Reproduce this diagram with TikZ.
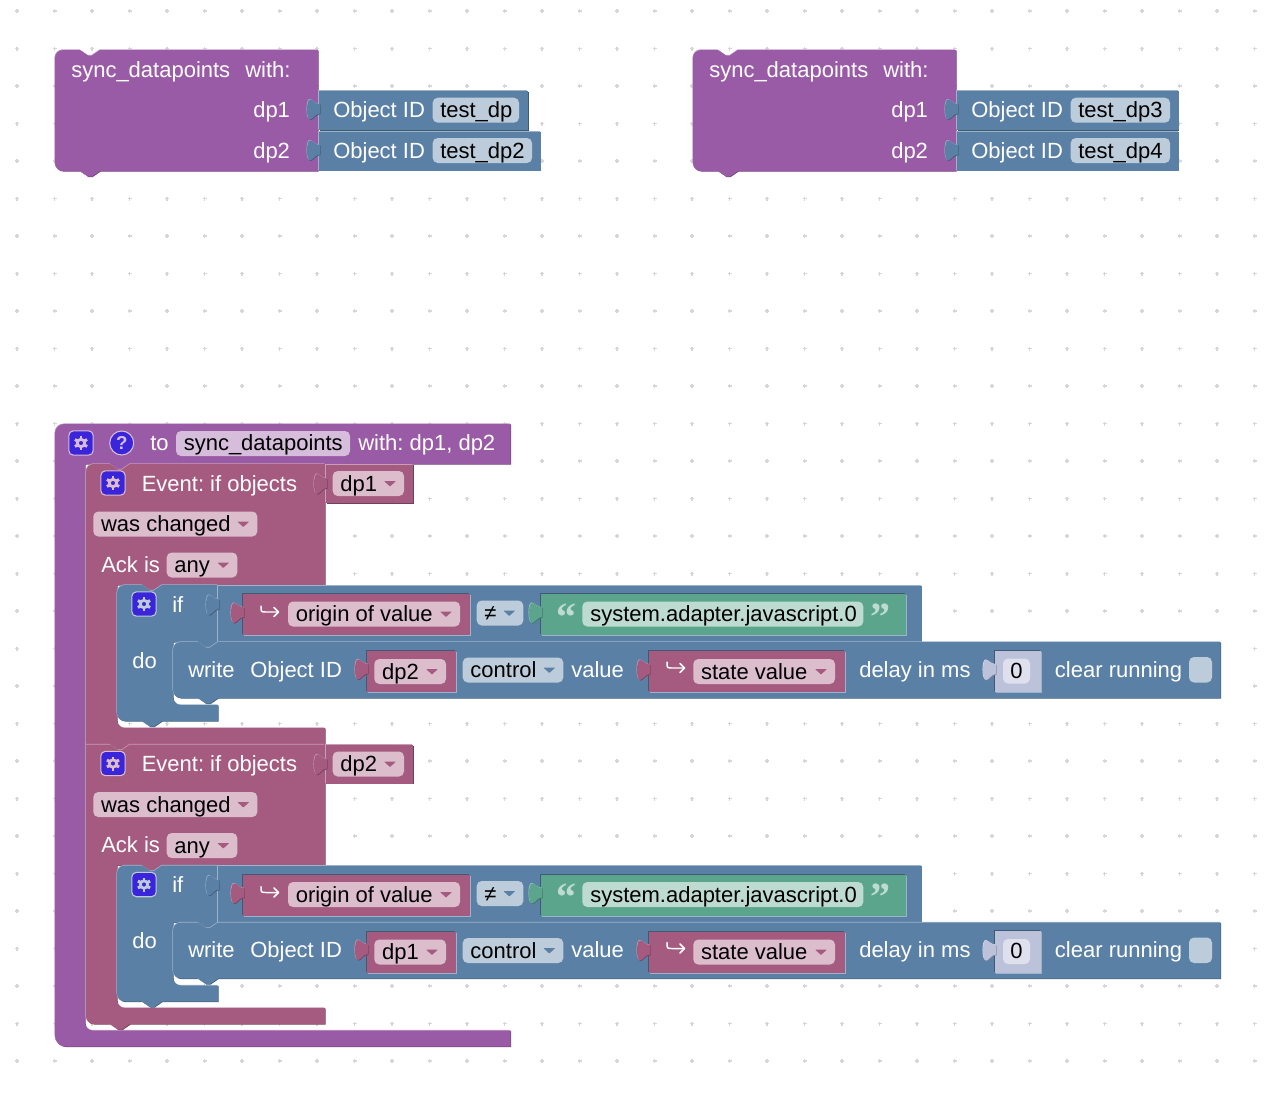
\documentclass[tikz,border=0pt]{standalone}
\usepackage{fontspec}
\setmainfont{Liberation Sans}
\newfontfamily\quotefont{Liberation Serif}
\frenchspacing
\definecolor{purp}{HTML}{995BA5}
\definecolor{purpf}{HTML}{D6BDDB}
\definecolor{maro}{HTML}{A55B80}
\definecolor{marof}{HTML}{DBBDCC}
\definecolor{blu}{HTML}{5B80A5}
\definecolor{bluf}{HTML}{BDCCDB}
\definecolor{grn}{HTML}{5BA58C}
\definecolor{grnf}{HTML}{BDDBD1}
\definecolor{numb}{HTML}{BDC2DB}
\definecolor{numf}{HTML}{DEE0ED}
\definecolor{icon}{HTML}{3B25DA}
\definecolor{griddot}{HTML}{D6D6D6}
\newcommand\blockfont{\fontsize{16.5}{19}\selectfont}
%%statement connector pieces
\newcommand\notchR{-- ++(8,5.5) -- ++(4,0) -- ++(8,-5.5)}
\newcommand\bumpL{-- ++(-8,5.5) -- ++(-4,0) -- ++(-8,-5.5)}
%%value tab: right edge, centre, colour
\newcommand\tabat[3]{\path[blk=#3] (#1+1,#2-5.5) .. controls (#1-4,#2-5.5) and (#1-6,#2-10) .. (#1-9,#2-10)
  .. controls (#1-13,#2-10) and (#1-13,#2+10) .. (#1-9,#2+10)
  .. controls (#1-6,#2+10) and (#1-4,#2+4) .. (#1+1,#2+4);}
%%dropdown field: name, x1, x2, centre, text, fill, arrow colour
\newcommand\ddfield[7]{\path[fill=#6,rounded corners=3.75pt] (#2,#4-12.5) rectangle (#3,#4+12.5);
  \node (#1) [fldtxt] at (#2+7.5,#4+7.5) {#5};
  \fill[#7,rounded corners=.5pt] (#3-20,#4-2.5) -- ++(12,0) -- ++(-6,5.5) -- cycle;}
\newcommand\hookicon[2]{\draw[iconln] (#1,#2) .. controls (#1,#2+6) .. (#1+5,#2+6) -- (#1+17,#2+6);
  \draw[iconln] (#1+13,#2+1.5) -- (#1+17.5,#2+6) -- (#1+13,#2+10.5);}
\tikzset{
  blk/.style={fill=#1,
    preaction={fill=#1!70!black,transform canvas={shift={(.45pt,-.45pt)}}},
    preaction={fill=#1!60!white,transform canvas={shift={(-.4pt,.4pt)}}}},
  %%child sitting in a blue row
  inset/.style={fill=#1,
    preaction={fill=blu!60!white,transform canvas={shift={(.75pt,-.75pt)}}},
    preaction={fill=blu!70!black,transform canvas={shift={(-.6pt,.6pt)}}}},
  lbl/.style={anchor=base west,inner sep=0pt,text=white,font=\blockfont},
  fldtxt/.style={anchor=base west,inner sep=0pt,text=black,font=\blockfont},
  iconln/.style={white,line width=1.1pt,line cap=round,line join=round},
  quot/.style={anchor=center,inner sep=0pt,text=grnf,font=\quotefont\fontsize{30}{30}\bfseries\selectfont},
  pics/gearicon/.style={code={
    \path[fill=icon,draw=#1,line width=.8pt,rounded corners=3.5pt] (-12.2,-12.2) rectangle (12.2,12.2);
    \draw[#1,line width=2.1pt] (0,0) circle (3.7);
    \foreach \a in {30,90,...,330}
      \draw[#1,line width=2.2pt] (\a:4.5) -- (\a:7);
  }}
}
\begin{document}
\begin{tikzpicture}[x=.75pt,y=-.75pt]
  \useasboundingbox (0,0) rectangle (1276,1096);

  %%grid
  \foreach \i in {-1,...,32}
    \foreach \j in {-1,...,27}
      \draw[griddot,line width=.9pt] (54.5+37.5*\i-2,48.5+37.5*\j) -- ++(4,0) (54.5+37.5*\i,48.5+37.5*\j-2) -- ++(0,4);

  %%sync_datapoints calls
  \foreach \xs/\dpa/\dpb/\wa/\wb/\fa/\fb/\id in {0/test\_dp/test\_dp2/528/540.5/519/532/a,638/test\_dp3/test\_dp4/540.5/540.5/532/532/b}{
    \begin{scope}[shift={(\xs,0)}]
      \path[blk=purp] (55,110) [rounded corners=6pt] -- (55,50) -- (70,50) [sharp corners] -- (80,50) \notchR -- (318,50) -- (318,171) -- (100,171) \bumpL -- (70,171) [rounded corners=6pt] -- (55,171) -- (55,110);
      \node (sync\id) [lbl] at (71,77) {sync\_datapoints};
      \node (with\id) [lbl] at (245,77) {with:};
      \node (arga\id) [lbl] at (253,117) {dp1};
      \node (argb\id) [lbl] at (253,158) {dp2};

      \path[blk=blu] (319,91) rectangle (\wa,130);
      \tabat{319}{109.5}{blu}
      \node (obja\id) [lbl] at (333,117) {Object ID};
      \path[fill=bluf,rounded corners=3.75pt] (432.7,97.7) rectangle (\fa,122.7);
      \node (vala\id) [fldtxt] at (440,117.5) {\dpa};

      \path[blk=blu] (319,132) rectangle (\wb,170.5);
      \tabat{319}{150.5}{blu}
      \node (objb\id) [lbl] at (333,158) {Object ID};
      \path[fill=bluf,rounded corners=3.75pt] (432.7,138) rectangle (\fb,163);
      \node (valb\id) [fldtxt] at (440,158) {\dpb};
    \end{scope}
  }

  %%function block
  \path[blk=purp] (55,700) [rounded corners=7pt] -- (55,424) -- (110,424) [sharp corners] -- (510.5,424) -- (510.5,464) -- (130,464) \bumpL -- (85,464) [rounded corners=6pt] -- (85,1030.5) -- (300,1030.5) [sharp corners] -- (510.5,1030.5) -- (510.5,1046.5) -- (300,1046.5) [rounded corners=8pt] -- (55,1046.5) -- (55,700);
  \pic at (81,443) {gearicon=purpf};
  \node (help) [circle,fill=icon,draw=purpf,line width=.8pt,minimum size=18pt,inner sep=0pt,text=purpf,font=\fontsize{14}{14}\bfseries\selectfont] at (121.7,443) {?};
  \node (to) [lbl] at (150,450) {to};
  \path[fill=purpf,rounded corners=3.75pt] (176,431) rectangle (350,456);
  \node (fname) [fldtxt] at (183.5,450.5) {sync\_datapoints};
  \node (fargs) [lbl] at (358,450) {with: dp1, dp2};

  %%event blocks
  \path[blk=maro] (86,500) [rounded corners=6pt] -- (86,464) -- (100,464) [sharp corners] -- (110,464) \notchR -- (325,464) -- (325,585) -- (162,585) \bumpL -- (117,585) [rounded corners=6pt] -- (117,728) -- (250,728) [sharp corners] -- (325,728) -- (325,744.5) -- (130,744.5) \bumpL -- (86,744.5) -- (86,500);
  \path[blk=maro] (86,800) -- (86,744.5) -- (110,744.5) \notchR -- (325,744.5) -- (325,865.5) -- (162,865.5) \bumpL -- (117,865.5) [rounded corners=6pt] -- (117,1008) -- (250,1008) [sharp corners] -- (325,1008) -- (325,1024) -- (130,1024) \bumpL -- (100,1024) [rounded corners=6pt] -- (86,1024) -- (86,800);

  \foreach \ys/\dpa/\dpb/\id in {0/dp1/dp2/a,280.5/dp2/dp1/b}{
    \begin{scope}[shift={(0,\ys)}]
      %%L1 event head
      \pic at (113,483) {gearicon=marof};
      \node (event\id) [lbl] at (141.5,491) {Event: if objects};
      \path[blk=maro] (326,464.5) rectangle (413,503);
      \tabat{326}{484}{maro}
      \ddfield{objs\id}{332.7}{404}{483.5}{\dpa}{marof}{maro}
      \ddfield{chg\id}{93.3}{257.3}{524}{was changed}{marof}{maro}
      \node (ack\id) [lbl] at (101,572) {Ack is};
      \ddfield{any\id}{166.7}{237.3}{565}{any}{marof}{maro}

      %%L2 if block
      \path[blk=blu] (117,620) [rounded corners=6pt] -- (117,585) -- (132,585) [sharp corners] -- (142,585) \notchR -- (218,585) -- (218,642) \bumpL -- (173,642) [rounded corners=6pt] -- (173,705) -- (195,705) [sharp corners] -- (218,705) -- (218,721) -- (162,721) \bumpL -- (130,721) [rounded corners=6pt] -- (117,721) -- (117,620);
      \pic at (144,604) {gearicon=bluf};
      \node (if\id) [lbl] at (172,612) {if};
      \node (do\id) [lbl] at (132,668) {do};

      %%compare block
      \path[blk=blu] (218,585.5) rectangle (921.5,642);
      \tabat{218}{605}{blu}
      \path[inset=maro] (243,594) rectangle (470,635);
      \tabat{243}{613}{maro}
      \hookicon{261}{606}
      \ddfield{orig\id}{288}{460}{614}{origin of value}{marof}{maro}
      \ddfield{cmp\id}{476.7}{523.3}{613}{≠}{bluf}{blu}
      \path[inset=grn] (541,594) rectangle (906,635);
      \tabat{541}{613}{grn}
      \node (qa\id) [quot] at (566,617) {“};
      \path[fill=grnf,rounded corners=3.75pt] (582.3,601.5) rectangle (863.3,626.5);
      \node (sys\id) [fldtxt] at (590,621.5) {system.adapter.javascript.0};
      \node (qb\id) [quot] at (880,617) {”};

      %%write block
      \path[blk=blu] (173,670) [rounded corners=6pt] -- (173,642) -- (188,642) [sharp corners] -- (198,642) \notchR -- (1220.5,642) -- (1220.5,698) -- (218,698) \bumpL -- (186,698) [rounded corners=6pt] -- (173,698) -- (173,670);
      \node (wr\id) [lbl] at (188,677) {write};
      \node (oid\id) [lbl] at (250,677) {Object ID};
      \path[inset=maro] (367,651) rectangle (456,692);
      \tabat{367}{669.5}{maro}
      \ddfield{tgt\id}{374.3}{446}{671.5}{\dpb}{marof}{maro}
      \ddfield{ctl\id}{462.7}{563.3}{670}{control}{bluf}{blu}
      \node (vl\id) [lbl] at (571,677) {value};
      \path[inset=maro] (649,651) rectangle (845,692);
      \tabat{649}{670}{maro}
      \hookicon{667}{662}
      \ddfield{st\id}{693.3}{835}{671.5}{state value}{marof}{maro}
      \node (dl\id) [lbl] at (859,677) {delay in ms};
      \path[inset=numb] (995,650.5) rectangle (1040.7,692);
      \tabat{995}{670}{numb}
      \path[fill=numf,rounded corners=3.75pt] (1003,658.5) rectangle (1030,683.5);
      \node (zero\id) [fldtxt,anchor=base] at (1016.5,678) {0};
      \node (clr\id) [lbl] at (1054.7,677) {clear running};
      \path[fill=bluf,rounded corners=3.75pt] (1189,657) rectangle (1212,682.5);
    \end{scope}
  }
\end{tikzpicture}
\end{document}
